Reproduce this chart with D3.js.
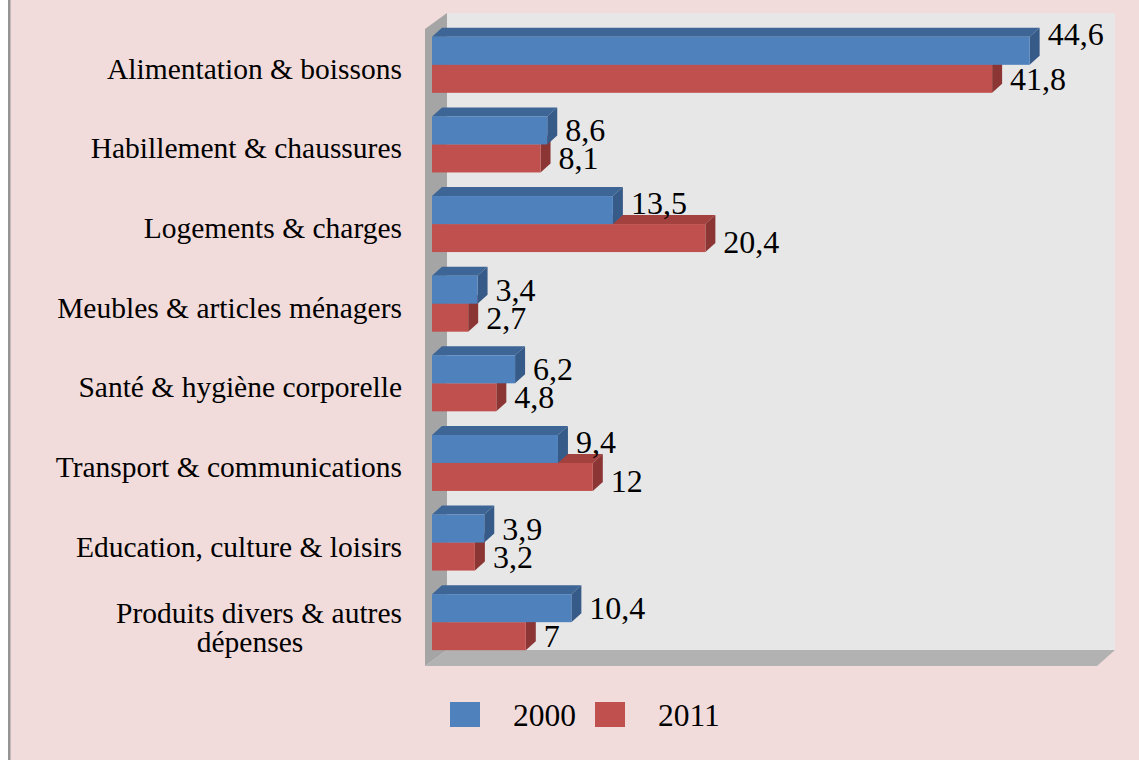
<!DOCTYPE html>
<html>
<head>
<meta charset="utf-8">
<script src="https://cdn.jsdelivr.net/npm/d3@7"></script>
<style>
  html, body { margin: 0; padding: 0; background: #fff; }
  svg { display: block; }
</style>
</head>
<body>
<div id="chart"></div>
<script>
const categories = [
  'Alimentation & boissons',
  'Habillement & chaussures',
  'Logements & charges',
  'Meubles & articles ménagers',
  'Santé & hygiène corporelle',
  'Transport & communications',
  'Education, culture & loisirs',
  'Produits divers & autres dépenses',
];
const seriesNames = ['2000', '2011'];
const values2000 = [44.6, 8.6, 13.5, 3.4, 6.2, 9.4, 3.9, 10.4];
const values2011 = [41.8, 8.1, 20.4, 2.7, 4.8, 12, 3.2, 7];

const width = 1139, height = 760;
const font = '"Liberation Serif", "Times New Roman", serif';

const colors = {
  '2000': { front: '#4f81bd', top: '#3d6595', side: '#375b88' },
  '2011': { front: '#c0504d', top: '#a3413e', side: '#8b3634' },
};

const svg = d3.select('#chart').append('svg')
  .attr('width', width).attr('height', height);

// background
svg.append('rect').attr('width', width).attr('height', height).attr('fill', '#f2dcdb');
svg.append('rect').attr('width', 8).attr('height', height).attr('fill', '#fff');
svg.append('rect').attr('x', 8).attr('width', 2.5).attr('height', height).attr('fill', '#959595');

const x = d3.scaleLinear().domain([0, 50]).range([432, 432 + 670]);
const y = d3.scaleBand().domain(categories).range([25, 662]);
const barH = 28;
const bdx = 10, bdy = 9;   // bar depth
const wdx = 22, wdy = 16;  // wall depth

// walls
const wall = { left: 425, top: 29, bottom: 666, right: 1115 };
svg.append('rect')
  .attr('x', wall.left + wdx).attr('y', wall.top - wdy)
  .attr('width', wall.right - wall.left - wdx).attr('height', wall.bottom - wall.top)
  .attr('fill', '#e7e7e7');
svg.append('path')
  .attr('d', `M${wall.left},${wall.top}L${wall.left + wdx},${wall.top - wdy}L${wall.left + wdx},${wall.bottom - wdy}L${wall.left},${wall.bottom}Z`)
  .attr('fill', '#a5a5a5');
svg.append('path')
  .attr('d', `M${wall.left},${wall.bottom}L${wall.left + wdx},${wall.bottom - wdy}L${wall.right},${wall.bottom - wdy}L${wall.right - wdx + 4},${wall.bottom}Z`)
  .attr('fill', '#b2b2b2');

// bars: 2011 (lower) first, then 2000 on top of it
const data = categories.map((c, i) => ({ cat: c, '2000': values2000[i], '2011': values2011[i] }));
const drawOrder = ['2011', '2000'];

drawOrder.forEach(s => {
  const yOff = s === '2000' ? 0 : barH;
  const g = svg.append('g').attr('class', 'series-' + s);
  data.forEach(d => {
    const x0 = x(0), x1 = x(d[s]);
    const y0 = y(d.cat) + y.bandwidth() / 2 - barH + yOff, y1 = y0 + barH;
    g.append('path')
      .attr('d', `M${x0},${y0}L${x0 + bdx},${y0 - bdy}L${x1 + bdx},${y0 - bdy}L${x1},${y0}Z`)
      .attr('fill', colors[s].top);
    g.append('path')
      .attr('d', `M${x1},${y0}L${x1 + bdx},${y0 - bdy}L${x1 + bdx},${y1 - bdy}L${x1},${y1}Z`)
      .attr('fill', colors[s].side);
    g.append('rect')
      .attr('x', x0).attr('y', y0).attr('width', x1 - x0).attr('height', barH)
      .attr('fill', colors[s].front);

    // label centred on the front face, nudged apart when the lower bar is longer
    let ly = (y0 + y1) / 2 + 11;
    const redLonger = d['2011'] > d['2000'];
    if (s === '2000' && redLonger) ly -= 7;
    if (s === '2011' && redLonger) ly += 4;
    const lbl = g.append('text')
      .attr('x', x1 + bdx + 8)
      .attr('font-family', font).attr('font-size', 32).attr('fill', '#000')
      .text(String(d[s]).replace('.', ','));
    const lw = lbl.node().getComputedTextLength();
    if (x1 + bdx + 8 + lw + 12 > wall.right) ly -= 17;  // too close to the edge: lift it
    lbl.attr('y', ly);
  });
});

// category labels, wrapped when too long
const labelX = 402, maxW = 360;
categories.forEach(c => {
  const cy = y(c) + y.bandwidth() / 2;
  const t = svg.append('text')
    .attr('font-family', font).attr('font-size', 29.5).attr('fill', '#000');
  const words = c.split(' ');
  const lines = [];
  let line = [];
  const probe = t.append('tspan');
  words.forEach(w => {
    line.push(w);
    probe.text(line.join(' '));
    if (probe.node().getComputedTextLength() > maxW && line.length > 1) {
      line.pop();
      lines.push(line.join(' '));
      line = [w];
    }
  });
  lines.push(line.join(' '));
  probe.remove();
  if (lines.length === 1) {
    t.attr('x', labelX).attr('y', cy + 14).attr('text-anchor', 'end').text(c);
  } else {
    const w0 = (() => { const p = t.append('tspan').text(lines[0]); const w = p.node().getComputedTextLength(); p.remove(); return w; })();
    const cx = labelX - w0 / 2 - 9;
    lines.forEach((l, i) => {
      t.append('tspan')
        .attr('x', i === 0 ? labelX : cx)
        .attr('text-anchor', i === 0 ? 'end' : 'middle')
        .attr('y', cy + 1 + i * 29).text(l);
    });
  }
});

// legend
const legend = svg.append('g').attr('transform', 'translate(450,702)');
seriesNames.forEach((s, i) => {
  const lg = legend.append('g').attr('transform', `translate(${i * 145},0)`);
  lg.append('rect').attr('width', 30).attr('height', 25).attr('fill', colors[s].front);
  lg.append('text').attr('x', 63).attr('y', 24)
    .attr('font-family', font).attr('font-size', 31.5).attr('fill', '#000').text(s);
});
</script>
</body>
</html>
